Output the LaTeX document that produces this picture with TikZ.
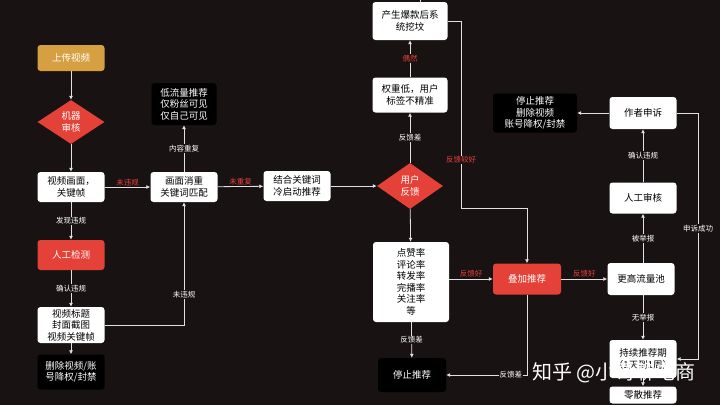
\documentclass[tikz,border=0pt]{standalone}
\usepackage{fontspec}
\setmainfont{Noto Sans CJK SC}
\usepackage{tikz}
\usetikzlibrary{positioning,shapes.geometric,arrows.meta}
\definecolor{bgColor}{RGB}{24,18,18}
\definecolor{redColor}{RGB}{228,66,56}
\definecolor{goldColor}{RGB}{214,160,66}
\definecolor{lineColor}{RGB}{225,225,225}
\tikzstyle{flowChart} = [x = 1pt, y = -1pt]
\tikzstyle{boxStyle} = [fill=white, text=black, rounded corners = 3pt, minimum width = 67pt, minimum height = 30pt, inner sep = 2pt, align=center, font=\fontsize{9.5}{11.5}\selectfont]
\tikzstyle{redBox} = [boxStyle, fill=redColor, text=white]
\tikzstyle{goldBox} = [boxStyle, fill=goldColor, text=white]
\tikzstyle{darkBox} = [boxStyle, fill=black, text=white]
\tikzstyle{diamondStyle} = [diamond, fill=redColor, text=white, minimum width = 67pt, minimum height = 44pt, inner sep = 0pt, align=center, font=\fontsize{9.5}{11.5}\selectfont]
\tikzstyle{flowArrow} = [draw=lineColor, line width = .8pt, -{Latex[length=4pt, width=4pt]}]
\tikzstyle{flowLine} = [draw=lineColor, line width = .8pt]
\tikzstyle{lineLabel} = [fill=bgColor, text=white, inner sep = 1pt, font=\fontsize{7.5}{8.5}\selectfont]
\tikzstyle{redLabel} = [text=redColor, inner sep = 1pt, font=\fontsize{7.5}{8.5}\selectfont]
\begin{document}
\begin{tikzpicture}[flowChart]
  \fill [bgColor] (0,0) rectangle (720,405);
  \useasboundingbox (0,0) rectangle (720,405);

  \node [goldBox, minimum height = 26pt] (uploadVideo) at (71,58) {上传视频};
  \node [diamondStyle] (machineCheck) at (71,122) {机器\\审核};
  \node [boxStyle] (frameKey) at (71,187) {视频画面，\\关键帧};
  \node [redBox] (manualCheck) at (71,255) {人工检测};
  \node [boxStyle, minimum height = 36pt] (titleCover) at (71,325) {视频标题\\封面截图\\视频关键帧};
  \node [darkBox, minimum height = 35pt] (deleteVideo) at (71,372) {删除视频/账\\号降权/封禁};

  \node [darkBox, minimum height = 42pt, minimum width = 65pt] (lowTraffic) at (184,104) {低流量推荐\\仅粉丝可见\\仅自己可见};
  \node [boxStyle] (dedupMatch) at (184,187) {画面消重\\关键词匹配};
  \node [boxStyle] (coldStart) at (297,186) {结合关键词\\冷启动推荐};

  \node [diamondStyle, minimum width = 66pt, minimum height = 46pt] (userFeedback) at (410,186) {用户\\反馈};
  \node [boxStyle, minimum width = 75pt, minimum height = 35pt] (lowWeight) at (410,95) {权重低，用户\\标签不精准};
  \node [boxStyle, minimum width = 75pt, minimum height = 38pt] (hotDig) at (410,21) {产生爆款后系\\统挖坟};
  \node [boxStyle, minimum width = 76pt, minimum height = 80pt] (rateBox) at (411,282) {点赞率\\评论率\\转发率\\完播率\\关注率\\等};
  \node [darkBox, minimum width = 68pt, minimum height = 34pt] (stopRecommend) at (412,375) {停止推荐};

  \node [redBox, minimum width = 68pt, minimum height = 31pt] (stackRecommend) at (527,279) {叠加推荐};
  \node [boxStyle, minimum height = 32pt] (higherPool) at (641,279) {更高流量池};
  \node [boxStyle, minimum height = 31pt] (manualReview) at (643,198) {人工审核};
  \node [boxStyle, minimum height = 32pt] (authorAppeal) at (643,113) {作者申诉};
  \node [darkBox, minimum width = 84pt, minimum height = 39pt] (stopDelete) at (535,113) {停止推荐\\删除视频\\账号降权/封禁};
  \node [boxStyle, minimum height = 38pt] (keepRecommend) at (643,359) {持续推荐期\\（1天到1周）};
  \node [boxStyle, minimum height = 17pt] (scatterRecommend) at (643,395) {零散推荐};

  \coordinate (topCut) at (420,0);
  \coordinate (digTurn) at (461,208);
  \coordinate (repeatTurn) at (184,325);
  \coordinate (appealTurn) at (698,113);

  \draw [flowArrow] (uploadVideo) -- (machineCheck);
  \draw [flowArrow] (machineCheck) -- (frameKey);
  \draw [flowArrow] (frameKey) -- node [redLabel, above] {未违规} (dedupMatch);
  \draw [flowArrow] (frameKey) -- node [lineLabel] {发现违规} (manualCheck);
  \draw [flowArrow] (manualCheck) -- node [lineLabel] {确认违规} (titleCover);
  \draw [flowArrow] (titleCover) -- (deleteVideo);
  \draw [flowArrow] (titleCover.east |- repeatTurn) -- (repeatTurn) -- node [lineLabel, pos=.25] {未违规} (dedupMatch);
  \draw [flowArrow] (dedupMatch) -- node [lineLabel] {内容重复} (lowTraffic);
  \draw [flowArrow] (dedupMatch) -- node [redLabel, above] {未重复} (coldStart);
  \draw [flowArrow] (coldStart) -- (userFeedback);
  \draw [flowArrow] (userFeedback) -- node [lineLabel] {反馈差} (lowWeight);
  \draw [flowArrow] (lowWeight) -- node [redLabel, fill=bgColor] {偶然} (hotDig);
  \draw [flowLine] (topCut) -- (topCut |- hotDig.north);
  \draw [flowArrow] (userFeedback) -- (rateBox);
  \draw [flowArrow] (rateBox) -- node [lineLabel] {反馈差} (stopRecommend);
  \draw [flowArrow] (rateBox.east |- stackRecommend) -- node [redLabel, above] {反馈好} (stackRecommend);
  \draw [flowArrow] (hotDig.east) -| (digTurn) -| (stackRecommend.north);
  \node [redLabel, fill=bgColor] (digLabel) at (461,160) {反馈较好};
  \draw [flowArrow] (stackRecommend.south) |- node [lineLabel, pos=.6] {反馈差} (stopRecommend.east);
  \draw [flowArrow] (stackRecommend) -- node [redLabel, above] {反馈好} (higherPool);
  \draw [flowArrow] (higherPool.north -| manualReview) -- node [lineLabel] {被举报} (manualReview);
  \draw [flowArrow] (manualReview) -- node [lineLabel] {确认违规} (authorAppeal);
  \draw [flowArrow] (authorAppeal) -- (stopDelete);
  \draw [flowArrow] (authorAppeal.east) -- (appealTurn) -- node [lineLabel, pos=.47] {申诉成功} (appealTurn |- keepRecommend) -- (keepRecommend.east);
  \draw [flowArrow] (higherPool.south -| keepRecommend) -- node [lineLabel] {无举报} (keepRecommend);
  \draw [flowArrow] (keepRecommend) -- (scatterRecommend);

  \node [text=white, font=\fontsize{20}{22}\selectfont] (watermark) at (614,373) {知乎 @小哥聊电商};
\end{tikzpicture}
\end{document}
